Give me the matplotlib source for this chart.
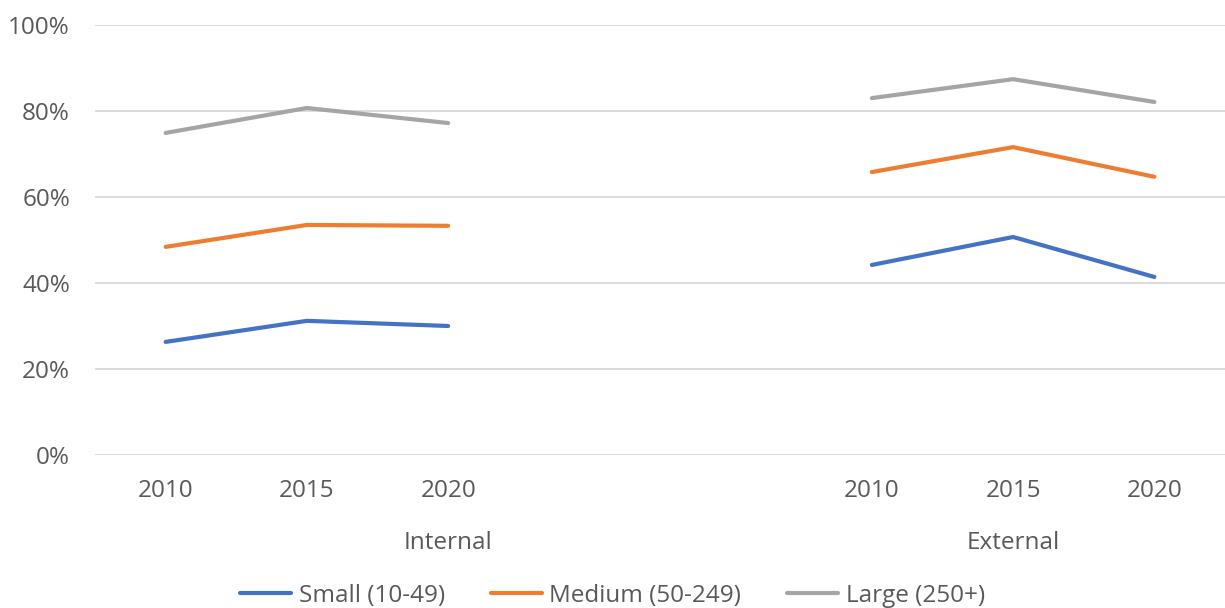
import matplotlib
matplotlib.use("Agg")
import matplotlib.pyplot as plt
import numpy as np

plt.rcParams['font.family'] = ['Open Sans', 'DejaVu Sans']

years = ["2010", "2015", "2020"]
groups = ["Internal", "External"]
series_names = ["Small (10-49)", "Medium (50-249)", "Large (250+)"]
colors = ["#4472C4", "#ED7D31", "#A5A5A5"]

small_internal = [26.3, 31.2, 30.0]
medium_internal = [48.4, 53.5, 53.3]
large_internal = [74.9, 80.7, 77.2]

small_external = [44.2, 50.7, 41.4]
medium_external = [65.8, 71.6, 64.7]
large_external = [83.0, 87.4, 82.1]

internal = [small_internal, medium_internal, large_internal]
external = [small_external, medium_external, large_external]

# category slots: 3 internal years, 2 empty slots, 3 external years
internal_slots = np.arange(3)
external_slots = np.arange(5, 8)
n_slots = 8

fig = plt.figure(figsize=(12.25, 6.08), dpi=100)
ax = fig.add_axes([95 / 1225, 1 - 455 / 608, 1130 / 1225, 430 / 608])

text_color = "#595959"
fs = 17.5
handles = []
for name, col, vi, ve in zip(series_names, colors, internal, external):
    h, = ax.plot(internal_slots, vi, color=col, lw=3.0, solid_capstyle="round")
    ax.plot(external_slots, ve, color=col, lw=3.0, solid_capstyle="round")
    h.set_label(name)
    handles.append(h)

ax.set_xlim(-0.5, n_slots - 0.5)
ax.set_ylim(0, 100)
ax.set_yticks(np.arange(0, 101, 20))
ax.set_yticklabels([f"{v}%" for v in range(0, 101, 20)])
ax.yaxis.grid(True, color="#D9D9D9", lw=1.3)
ax.set_axisbelow(True)
for s in ax.spines.values():
    s.set_visible(False)
ax.tick_params(axis="y", length=0, labelsize=fs, labelcolor=text_color, pad=18)
ax.tick_params(axis="x", length=0, labelsize=fs, labelcolor=text_color, pad=17)

ax.set_xticks(list(internal_slots) + list(external_slots))
ax.set_xticklabels(years + years)

# group labels beneath the year labels
group_centers = [2.0, 6.0]
for g, c in zip(groups, group_centers):
    ax.text((c + 0.5) / n_slots, -(543 - 455) / 430, g, transform=ax.transAxes,
            ha="center", va="center", fontsize=fs, color=text_color)

leg = fig.legend(handles=handles, loc="center", bbox_to_anchor=(0.5, 1 - 596 / 608),
                 ncol=3, frameon=False, fontsize=fs, handlelength=2.1,
                 handletextpad=0.3, columnspacing=1.9)
for t in leg.get_texts():
    t.set_color(text_color)

fig.savefig("out.png", dpi=100, facecolor="white")
